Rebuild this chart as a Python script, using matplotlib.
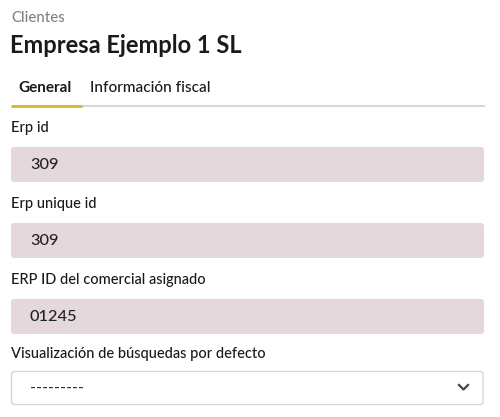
import matplotlib.pyplot as plt
from matplotlib.patches import FancyBboxPatch

plt.rcParams['font.family'] = ['Lato', 'DejaVu Sans']

# contenido del formulario
breadcrumb = "Clientes"
title = "Empresa Ejemplo 1 SL"
tabs = ["General", "Información fiscal"]
field_labels = ["Erp id", "Erp unique id", "ERP ID del comercial asignado"]
field_values = ["309", "309", "01245"]
select_label = "Visualización de búsquedas por defecto"
select_value = "---------"

fig = plt.figure(figsize=(5, 4.17), dpi=100)
ax = fig.add_axes([0, 0, 1, 1])
ax.set_xlim(0, 500)
ax.set_ylim(417, 0)
ax.axis('off')

ax.text(11, 18, breadcrumb, fontsize=10.8, color='#8a8084', va='center', fontweight='medium')
ax.text(10, 45, title, fontsize=17, fontweight='bold', color='#1a1a1a', va='center')

# pestañas
ax.text(18, 88, tabs[0], fontsize=11, fontweight='bold', color='#1a1a1a', va='center')
ax.text(90, 88, tabs[1], fontsize=11.1, color='#1a1a1a', va='center', fontweight='medium')
ax.plot([82, 485], [106, 106], color='#d8d8d8', lw=1.5, solid_capstyle='butt')
ax.plot([11, 82], [105.5, 105.5], color='#d9b62a', lw=2, solid_capstyle='butt')

# campos de solo lectura
y0, step = 128, 76
for i, (lab, val) in enumerate(zip(field_labels, field_values)):
    y = y0 + i * step
    ax.text(11, y, lab, fontsize=10.5, color='#1a1a1a', va='center', fontweight='medium')
    box = FancyBboxPatch((11, y + 19), 473, 35, boxstyle='round,pad=0,rounding_size=3',
                         fc='#e5d8dc', ec='none')
    ax.add_patch(box)
    ax.text(30, y + 37, val, fontsize=11.8, color='#222222', va='center', fontweight='medium')

# selector
ax.text(11, 354, select_label, fontsize=10.5, color='#1a1a1a', va='center', fontweight='medium')
sel = FancyBboxPatch((11.5, 371.5), 471.5, 33, boxstyle='round,pad=0,rounding_size=3',
                     fc='white', ec='#d6d6d6', lw=1)
ax.add_patch(sel)
ax.text(30, 388, select_value, fontsize=11.5, color='#333333', va='center', fontweight='medium')
ax.plot([459, 463.5, 468], [385, 389.5, 385], color='#444444', lw=1.6)

fig.savefig('out.png', dpi=100)
